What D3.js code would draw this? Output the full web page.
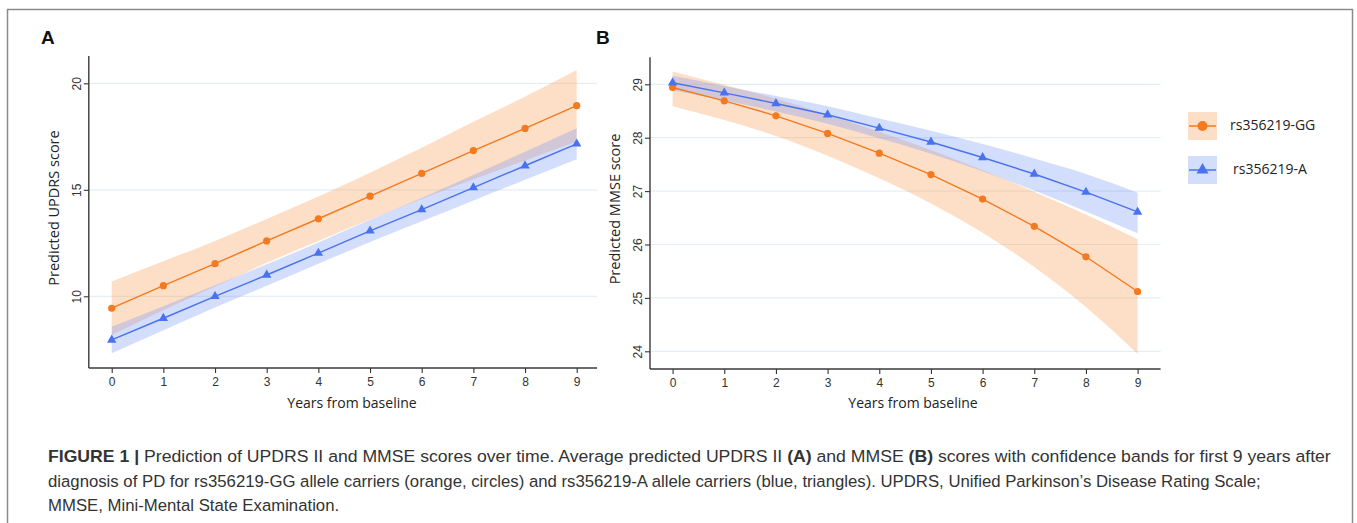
<!DOCTYPE html>
<html>
<head>
<meta charset="utf-8">
<script src="https://cdn.jsdelivr.net/npm/d3@7"></script>
<style>
  body { margin: 0; background: #fff; }
  svg { display: block; }
</style>
</head>
<body>
<div id="fig"></div>
<script>
// years after diagnosis
var years = [0, 1, 2, 3, 4, 5, 6, 7, 8, 9];

// panel A - UPDRS II
var updrsGG   = [9.44, 10.50, 11.53, 12.60, 13.64, 14.70, 15.77, 16.84, 17.88, 18.95];
var updrsGGhi = [10.70, 11.65, 12.60, 13.63, 14.68, 15.80, 16.97, 18.19, 19.38, 20.63];
var updrsGGlo = [8.18, 9.35, 10.46, 11.57, 12.60, 13.60, 14.57, 15.49, 16.38, 17.27];
var updrsA    = [7.95, 8.97, 10.00, 11.00, 12.03, 13.07, 14.07, 15.10, 16.13, 17.16];
var updrsAhi  = [8.57, 9.53, 10.52, 11.50, 12.53, 13.59, 14.62, 15.70, 16.79, 17.89];
var updrsAlo  = [7.33, 8.41, 9.48, 10.50, 11.53, 12.55, 13.52, 14.50, 15.47, 16.43];
var updrsTicks = [10, 15, 20];

// panel B - MMSE
var mmseGG   = [28.94, 28.69, 28.41, 28.08, 27.71, 27.31, 26.85, 26.34, 25.77, 25.12];
var mmseGGhi = [29.24, 28.99, 28.73, 28.43, 28.11, 27.77, 27.39, 26.99, 26.56, 26.10];
var mmseGGlo = [28.59, 28.33, 28.03, 27.66, 27.24, 26.77, 26.22, 25.58, 24.83, 23.95];
var mmseA    = [29.03, 28.84, 28.64, 28.43, 28.18, 27.92, 27.63, 27.32, 26.98, 26.61];
var mmseAhi  = [29.16, 28.97, 28.78, 28.59, 28.36, 28.13, 27.88, 27.61, 27.32, 26.97];
var mmseAlo  = [28.89, 28.70, 28.49, 28.26, 27.99, 27.70, 27.37, 27.01, 26.62, 26.21];
var mmseTicks = [24, 25, 26, 27, 28, 29];

var groupNames = ['rs356219-GG', 'rs356219-A'];

var orange = '#f37a1f', blue = '#4a72ef';
var orangeBand = '#f9a25e', blueBand = '#7a98f5';

var svg = d3.select('#fig').append('svg')
  .attr('width', 1357)
  .attr('height', 523);

// outer frame
svg.append('rect')
  .attr('x', 7.5).attr('y', 9.5)
  .attr('width', 1345).attr('height', 540)
  .attr('fill', 'none')
  .attr('stroke', '#8c8c8c')
  .attr('stroke-width', 1.5);

var labelFont = '"Open Sans", sans-serif';

function drawPanel(p){
  var x = d3.scaleLinear().domain([0, 9]).range([p.x0, p.x9]);
  var y = d3.scaleLinear().domain(p.yDom).range(p.yRange);
  var g = svg.append('g');

  // gridlines
  g.selectAll('.grid').data(p.ticks).enter().append('line')
    .attr('x1', p.left).attr('x2', p.right)
    .attr('y1', function(d){ return y(d); })
    .attr('y2', function(d){ return y(d); })
    .attr('stroke', '#e3eff2')
    .attr('stroke-width', 1.2);

  var area = function(lo, hi){
    return d3.area()
      .x(function(d, i){ return x(years[i]); })
      .y0(function(d, i){ return y(lo[i]); })
      .y1(function(d, i){ return y(hi[i]); })
      .curve(d3.curveMonotoneX)(years);
  };
  g.append('path').attr('d', area(p.ggLo, p.ggHi))
    .attr('fill', orangeBand).attr('fill-opacity', 0.35);
  g.append('path').attr('d', area(p.aLo, p.aHi))
    .attr('fill', blueBand).attr('fill-opacity', 0.33);

  var line = function(v){
    return d3.line()
      .x(function(d, i){ return x(years[i]); })
      .y(function(d, i){ return y(v[i]); })(years);
  };
  g.append('path').attr('d', line(p.gg))
    .attr('fill', 'none').attr('stroke', orange).attr('stroke-width', 1.4);
  g.append('path').attr('d', line(p.a))
    .attr('fill', 'none').attr('stroke', blue).attr('stroke-width', 1.4);

  g.selectAll('.dot').data(p.gg).enter().append('circle')
    .attr('cx', function(d, i){ return x(years[i]); })
    .attr('cy', function(d){ return y(d); })
    .attr('r', 3.6)
    .attr('fill', orange);

  var tri = d3.symbol().type(d3.symbolTriangle).size(38);
  g.selectAll('.tri').data(p.a).enter().append('path')
    .attr('d', tri)
    .attr('transform', function(d, i){ return 'translate(' + x(years[i]) + ',' + y(d) + ')'; })
    .attr('fill', blue);

  // axes
  var xAxis = g.append('g')
    .attr('transform', 'translate(0,' + p.bottom + ')')
    .call(d3.axisBottom(x).tickValues(years).tickSize(5).tickSizeOuter(0).tickFormat(d3.format('d')));
  xAxis.select('.domain').remove();
  xAxis.selectAll('line').attr('stroke', '#333').attr('stroke-width', 1.1);
  xAxis.selectAll('text')
    .attr('y', 9)
    .attr('font-family', '"Liberation Sans", Arial, sans-serif')
    .attr('font-size', 12)
    .attr('fill', '#333');

  var yAxis = g.append('g')
    .attr('transform', 'translate(' + p.left + ',0)')
    .call(d3.axisLeft(y).tickValues(p.ticks).tickSize(5).tickSizeOuter(0).tickFormat(d3.format('d')));
  yAxis.select('.domain').remove();
  yAxis.selectAll('line').attr('stroke', '#333').attr('stroke-width', 1.1);
  yAxis.selectAll('text')
    .attr('x', null).attr('dy', '0.35em')
    .attr('transform', 'translate(-12,0) rotate(-90)')
    .attr('text-anchor', 'middle')
    .attr('font-family', '"Liberation Sans", Arial, sans-serif')
    .attr('font-size', 12)
    .attr('fill', '#333');

  g.append('line')
    .attr('x1', p.left).attr('x2', p.left)
    .attr('y1', p.top).attr('y2', p.bottom)
    .attr('stroke', '#3a3a3a').attr('stroke-width', 1.4);
  g.append('line')
    .attr('x1', p.left).attr('x2', p.right)
    .attr('y1', p.bottom).attr('y2', p.bottom)
    .attr('stroke', '#3a3a3a').attr('stroke-width', 1.4);

  // titles
  g.append('text')
    .attr('transform', 'translate(' + p.yTitleX + ',' + p.yTitleY + ') rotate(-90)')
    .attr('text-anchor', 'middle').attr('dy', '0.35em')
    .attr('font-family', labelFont).attr('font-size', 14.5).attr('fill', '#222')
    .text(p.yTitle);
  g.append('text')
    .attr('x', p.xTitleX).attr('y', 403)
    .attr('text-anchor', 'middle').attr('dy', '0.35em')
    .attr('font-family', labelFont).attr('font-size', 14).attr('fill', '#222')
    .text('Years from baseline');

  g.append('text')
    .attr('x', p.letterX).attr('y', 43.5)
    .attr('font-family', '"Liberation Sans", Arial, sans-serif')
    .attr('font-weight', 'bold').attr('font-size', 19).attr('fill', '#111')
    .text(p.letter);
}

drawPanel({
  letter: 'A', letterX: 41,
  left: 88.8, right: 597, top: 56, bottom: 368,
  x0: 111.7, x9: 576.7,
  yDom: [10, 20], yRange: [296.3, 83.3], ticks: updrsTicks,
  gg: updrsGG, ggHi: updrsGGhi, ggLo: updrsGGlo,
  a: updrsA, aHi: updrsAhi, aLo: updrsAlo,
  yTitle: 'Predicted UPDRS score', yTitleX: 54, yTitleY: 208, xTitleX: 352
});

drawPanel({
  letter: 'B', letterX: 596,
  left: 650, right: 1160.6, top: 57.3, bottom: 369,
  x0: 672.6, x9: 1137.6,
  yDom: [24, 29], yRange: [351.3, 84.3], ticks: mmseTicks,
  gg: mmseGG, ggHi: mmseGGhi, ggLo: mmseGGlo,
  a: mmseA, aHi: mmseAhi, aLo: mmseAlo,
  yTitle: 'Predicted MMSE score', yTitleX: 614.5, yTitleY: 209, xTitleX: 913
});

// legend
var legend = svg.append('g');
var legY = [126, 170];
legend.selectAll('rect').data(groupNames).enter().append('rect')
  .attr('x', 1188).attr('y', function(d, i){ return legY[i] - 14; })
  .attr('width', 29).attr('height', 28)
  .attr('fill', function(d, i){ return i === 0 ? orangeBand : blueBand; })
  .attr('fill-opacity', function(d, i){ return i === 0 ? 0.35 : 0.33; });
legend.selectAll('line').data(groupNames).enter().append('line')
  .attr('x1', 1189).attr('x2', 1216)
  .attr('y1', function(d, i){ return legY[i]; })
  .attr('y2', function(d, i){ return legY[i]; })
  .attr('stroke', function(d, i){ return i === 0 ? orange : blue; })
  .attr('stroke-width', 1.5);
legend.append('circle').attr('cx', 1202.5).attr('cy', legY[0]).attr('r', 5).attr('fill', orange);
legend.append('path')
  .attr('d', d3.symbol().type(d3.symbolTriangle).size(62))
  .attr('transform', 'translate(1202.5,' + legY[1] + ')')
  .attr('fill', blue);
legend.selectAll('text').data(groupNames).enter().append('text')
  .attr('x', function(d, i){ return i === 0 ? 1230 : 1233; })
  .attr('y', function(d, i){ return legY[i] - 1; })
  .attr('dy', '0.35em')
  .attr('font-family', labelFont).attr('font-size', 14).attr('fill', '#222')
  .text(function(d){ return d; });

// caption
var capLines = [
  [['FIGURE 1 | ', true], ['Prediction of UPDRS II and MMSE scores over time. Average predicted UPDRS II ', false], ['(A)', true], [' and MMSE ', false], ['(B)', true], [' scores with confidence bands for first 9 years after', false]],
  [['diagnosis of PD for rs356219-GG allele carriers (orange, circles) and rs356219-A allele carriers (blue, triangles). UPDRS, Unified Parkinson\u2019s Disease Rating Scale;', false]],
  [['MMSE, Mini-Mental State Examination.', false]]
];
var capBase = [462, 487, 511];
var capWidth = [1284, 1214, null];
var scaleX = 1;
capLines.forEach(function(parts, li){
  var t = svg.append('text')
    .attr('font-family', '"Liberation Sans Narrow", "Liberation Sans", Arial, sans-serif')
    .attr('font-size', 16.5).attr('fill', '#333');
  parts.forEach(function(pt){
    t.append('tspan').attr('font-weight', pt[1] ? 'bold' : 'normal').text(pt[0]);
  });
  var w = t.node().getComputedTextLength();
  if (capWidth[li]) scaleX = capWidth[li] / w;
  t.attr('transform', 'translate(48,' + capBase[li] + ') scale(' + scaleX + ',1)');
});
</script>
</body>
</html>
